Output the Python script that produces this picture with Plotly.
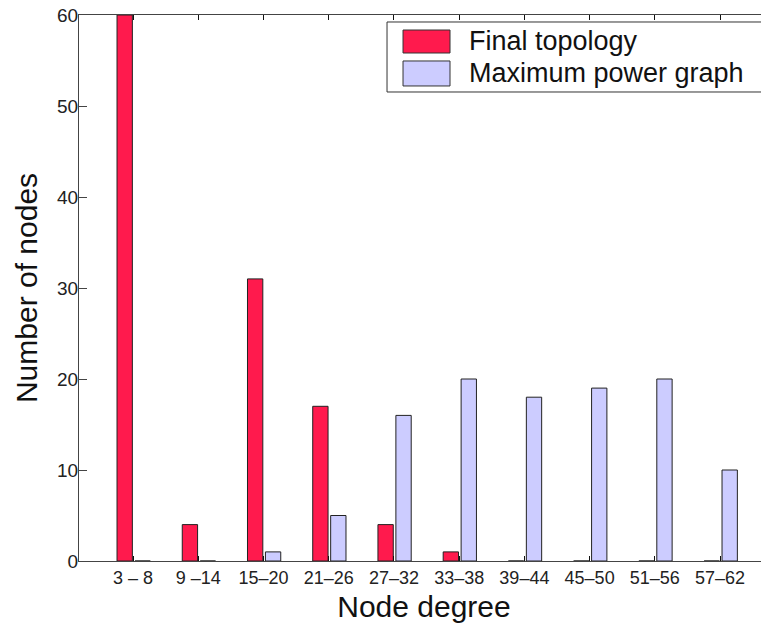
import plotly.graph_objects as go

categories = ["3 – 8", "9 –14", "15–20", "21–26", "27–32", "33–38",
              "39–44", "45–50", "51–56", "57–62"]
final_topology = [60, 4, 31, 17, 4, 1, 0, 0, 0, 0]
max_power = [0, 0, 1, 5, 16, 20, 18, 19, 20, 10]
y_ticks = [0, 10, 20, 30, 40, 50, 60]
series_names = ["Final topology", "Maximum power graph"]
series_colors = ["#ff1a4d", "#ccccff"]

xpos = list(range(1, len(categories) + 1))

FONT = "Liberation Sans, Arial, Helvetica, sans-serif"
EDGE = "#222222"

fig = go.Figure()
fig.add_trace(go.Bar(
    x=xpos, y=final_topology, name=series_names[0],
    width=0.235, offset=-0.245,
    marker=dict(color=series_colors[0], line=dict(color=EDGE, width=1)),
))
fig.add_trace(go.Bar(
    x=xpos, y=max_power, name=series_names[1],
    width=0.235, offset=0.03,
    marker=dict(color=series_colors[1], line=dict(color=EDGE, width=1)),
))

# custom legend (paper coordinates)
shapes = [dict(type="rect", xref="paper", yref="paper",
               x0=0.4464, x1=0.9899, y0=0.859, y1=0.9872,
               line=dict(color="#333333", width=1), fillcolor="white", layer="above")]
annotations = []
sw_y = [(0.9304, 0.9725), (0.870, 0.9158)]
txt_y = [0.9515, 0.8929]
for i, name in enumerate(series_names):
    shapes.append(dict(type="rect", xref="paper", yref="paper",
                       x0=0.4696, x1=0.5377, y0=sw_y[i][0], y1=sw_y[i][1],
                       line=dict(color="#333333", width=1),
                       fillcolor=series_colors[i], layer="above"))
    annotations.append(dict(xref="paper", yref="paper", x=0.5623, y=txt_y[i],
                            xanchor="left", yanchor="middle", showarrow=False,
                            text=name, font=dict(size=27, family=FONT, color="#111111")))

# the page body has an 8px margin, so the figure is 8px smaller than the window
fig.update_layout(
    width=761, height=619,
    margin=dict(l=71, r=0, t=7, b=66, autoexpand=False),
    paper_bgcolor="white", plot_bgcolor="white",
    barmode="overlay",
    font=dict(family=FONT, color="#111111"),
    showlegend=False,
    shapes=shapes,
    annotations=annotations,
    xaxis=dict(
        range=[0.172, 10.75],
        tickmode="array", tickvals=xpos, ticktext=categories,
        ticks="inside", ticklen=5, tickcolor="#111111", tickwidth=1,
        showline=True, linecolor="#444444", linewidth=1, mirror="ticks",
        showgrid=False, zeroline=False, automargin=False,
        ticklabeloverflow="allow",
        tickfont=dict(size=18, family=FONT, color="#222222"),
        title=dict(text="Node degree", font=dict(size=30, family=FONT, color="#111111"), standoff=9),
    ),
    yaxis=dict(
        range=[0, 60],
        tickmode="array", tickvals=y_ticks,
        ticks="inside", ticklen=8, tickcolor="#444444", tickwidth=1,
        showline=True, linecolor="#444444", linewidth=1, mirror="ticks",
        showgrid=False, zeroline=False, automargin=False,
        ticklabeloverflow="allow", ticklabelstandoff=-4,
        tickfont=dict(size=19, family=FONT, color="#222222"),
        title=dict(text="Number of nodes", font=dict(size=30, family=FONT, color="#111111"), standoff=10),
    ),
)

fig.write_html("out.html")
